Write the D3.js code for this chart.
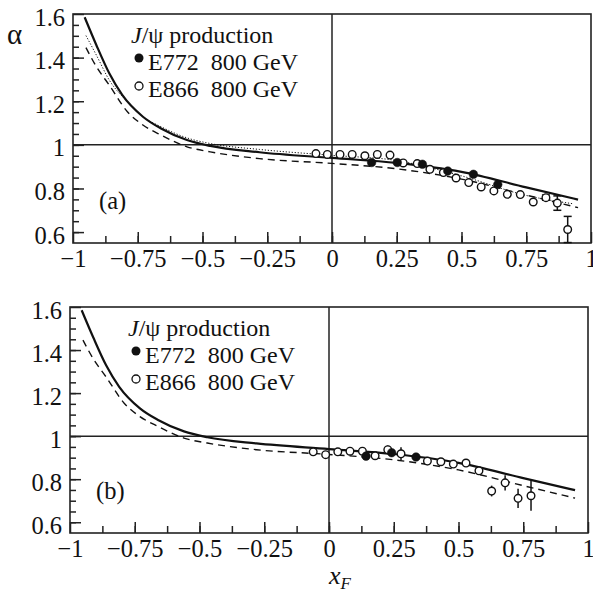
<!DOCTYPE html>
<html>
<head>
<meta charset="utf-8">
<script src="https://cdn.jsdelivr.net/npm/d3@7"></script>
<style>
body { margin: 0; background: #fff; }
text { font-family: "Liberation Serif", "Times New Roman", serif; fill: #111; }
</style>
</head>
<body>
<svg id="chart" width="593" height="596"></svg>
<script>
// theory curves (same in both panels)
var solidX  = [-0.955, -0.91, -0.86, -0.81, -0.73, -0.66, -0.56, -0.47, -0.28, 0, 0.25, 0.5, 0.75, 0.95];
var solidY  = [1.585, 1.458, 1.328, 1.229, 1.129, 1.075, 1.022, 0.995, 0.966, 0.94, 0.917, 0.876, 0.805, 0.749];
var dashX   = [-0.95, -0.91, -0.86, -0.79, -0.73, -0.66, -0.56, -0.47, -0.28, 0, 0.25, 0.5, 0.75, 0.95];
var dashY   = [1.446, 1.359, 1.274, 1.152, 1.091, 1.045, 0.991, 0.968, 0.937, 0.915, 0.89, 0.843, 0.77, 0.712];
var dotX    = [-0.95, -0.91, -0.86, -0.79, -0.73, -0.66, -0.56, -0.47, -0.28, 0, 0.25, 0.38, 0.5, 0.75, 0.93];
var dotY    = [1.501, 1.412, 1.297, 1.198, 1.129, 1.083, 1.032, 1.006, 0.979, 0.952, 0.928, 0.895, 0.858, 0.768, 0.73];

// panel (a) data
var e866aX   = [-0.062, -0.018, 0.031, 0.078, 0.127, 0.175, 0.224, 0.275, 0.329, 0.378, 0.43, 0.479, 0.528, 0.576, 0.625, 0.677, 0.727, 0.777, 0.826, 0.87, 0.91];
var e866aY   = [0.96, 0.956, 0.956, 0.956, 0.95, 0.956, 0.953, 0.917, 0.914, 0.888, 0.873, 0.848, 0.827, 0.807, 0.789, 0.773, 0.772, 0.738, 0.758, 0.733, 0.612];
var e866aErr = [0, 0, 0, 0, 0, 0, 0, 0, 0, 0, 0, 0, 0, 0, 0, 0, 0, 0, 0.012, 0.033, 0.06];
var e772aX   = [0.153, 0.252, 0.349, 0.447, 0.546, 0.64];
var e772aY   = [0.919, 0.919, 0.911, 0.88, 0.865, 0.818];

// panel (b) data
var e866bX   = [-0.061, -0.013, 0.034, 0.081, 0.129, 0.178, 0.227, 0.278, 0.38, 0.432, 0.48, 0.529, 0.579, 0.628, 0.68, 0.73, 0.78];
var e866bY   = [0.927, 0.914, 0.927, 0.93, 0.93, 0.909, 0.937, 0.918, 0.884, 0.881, 0.87, 0.875, 0.839, 0.745, 0.783, 0.711, 0.723];
var e866bErr = [0.019, 0.015, 0, 0, 0, 0, 0.02, 0.03, 0, 0, 0, 0, 0.015, 0.025, 0.035, 0.045, 0.07];
var e772bX   = [0.143, 0.242, 0.336];
var e772bY   = [0.907, 0.923, 0.903];
var e772bErr = [0.015, 0, 0.01];

var yTickVals = [0.6, 0.8, 1, 1.2, 1.4, 1.6];
var yTickText = ["0.6", "0.8", "1", "1.2", "1.4", "1.6"];
var xTickVals = [-1, -0.75, -0.5, -0.25, 0, 0.25, 0.5, 0.75, 1];
var xTickText = ["\u22121", "\u22120.75", "\u22120.5", "\u22120.25", "0", "0.25", "0.5", "0.75", "1"];

var svg = d3.select("#chart");

function zip(xs, ys, es) {
  return xs.map(function(x, i) { return {x: x, y: ys[i], e: es ? es[i] : 0}; });
}

function styleTicks(a) {
  a.select(".domain").remove();
  a.selectAll("line").attr("stroke", "#222").attr("stroke-width", 1.5);
  a.selectAll("text").attr("font-size", 24.5).attr("font-family", null).attr("fill", "#111");
}

function panel(left, top, w, h, tag, withDotted, caps) {
  var x = d3.scaleLinear().domain([-1, 1]).range([left, left + w]);
  var y = d3.scaleLinear().domain([0.55, 1.6]).range([top + h, top]);
  var g = svg.append("g");

  // minor ticks
  g.append("g").attr("transform", "translate(" + left + ",0)")
    .call(d3.axisLeft(y).tickValues(d3.range(0.6, 1.6, 0.05)).tickSize(-6).tickFormat(""))
    .call(styleTicks);
  g.append("g").attr("transform", "translate(0," + (top + h) + ")")
    .call(d3.axisBottom(x).tickValues(d3.range(-0.875, 1, 0.125)).tickSize(-7).tickFormat(""))
    .call(styleTicks);

  // major ticks + labels
  var ya = g.append("g").attr("transform", "translate(" + left + ",0)")
    .call(d3.axisLeft(y).tickValues(yTickVals).tickSize(-11).tickPadding(8)
      .tickFormat(function(d, i) { return yTickText[i]; }))
    .call(styleTicks);
  ya.attr("font-family", null);
  ya.selectAll("text").attr("dy", "0.45em");
  var xa = g.append("g").attr("transform", "translate(0," + (top + h) + ")")
    .call(d3.axisBottom(x).tickValues(xTickVals).tickSize(-11).tickPadding(7)
      .tickFormat(function(d, i) { return xTickText[i]; }))
    .call(styleTicks);
  xa.attr("font-family", null);

  // frame and reference lines
  g.append("rect").attr("x", left).attr("y", top).attr("width", w).attr("height", h)
    .attr("fill", "none").attr("stroke", "#222").attr("stroke-width", 1.6);
  g.append("line").attr("x1", left).attr("x2", left + w).attr("y1", y(1)).attr("y2", y(1))
    .attr("stroke", "#222").attr("stroke-width", 1.5);
  g.append("line").attr("x1", x(0)).attr("x2", x(0)).attr("y1", top).attr("y2", top + h)
    .attr("stroke", "#222").attr("stroke-width", 1.5);

  var line = d3.line().x(function(d) { return x(d.x); }).y(function(d) { return y(d.y); })
    .curve(d3.curveMonotoneX);

  g.append("path").datum(zip(dashX, dashY)).attr("d", line)
    .attr("fill", "none").attr("stroke", "#111").attr("stroke-width", 1.4).attr("stroke-dasharray", "7,5");
  if (withDotted) {
    g.append("path").datum(zip(dotX, dotY)).attr("d", line)
      .attr("fill", "none").attr("stroke", "#111").attr("stroke-width", 1).attr("stroke-dasharray", "1.2,1.8");
  }
  g.append("path").datum(zip(solidX, solidY)).attr("d", line)
    .attr("fill", "none").attr("stroke", "#111").attr("stroke-width", 2.2);

  // legend
  var lg = g.append("g");
  lg.append("text").attr("x", left + 58).attr("y", top + 29).attr("font-size", 24)
    .html('<tspan font-style="italic">J</tspan>/\u03c8 production');
  lg.append("circle").attr("cx", left + 66).attr("cy", top + 44).attr("r", 4.5).attr("fill", "#111");
  lg.append("text").attr("x", left + 75).attr("y", top + 56).attr("font-size", 24)
    .attr("xml:space", "preserve").text("E772  800 GeV");
  lg.append("circle").attr("cx", left + 66).attr("cy", top + 72).attr("r", 4).attr("fill", "#fff")
    .attr("stroke", "#111").attr("stroke-width", 1.3);
  lg.append("text").attr("x", left + 75).attr("y", top + 83).attr("font-size", 24)
    .attr("xml:space", "preserve").text("E866  800 GeV");

  g.append("text").attr("x", left + 26).attr("y", top + h - 34).attr("font-size", 24.5).text(tag);

  return {g: g, x: x, y: y, caps: caps};
}

function points(p, data, filled) {
  var eb = data.filter(function(d) { return d.e > 0; });
  p.g.selectAll(null).data(eb).enter().append("line")
    .attr("x1", function(d) { return p.x(d.x); }).attr("x2", function(d) { return p.x(d.x); })
    .attr("y1", function(d) { return p.y(d.y - d.e); }).attr("y2", function(d) { return p.y(d.y + d.e); })
    .attr("stroke", "#111").attr("stroke-width", 1.5);
  if (p.caps) {
    [-1, 1].forEach(function(s) {
      p.g.selectAll(null).data(eb).enter().append("line")
        .attr("x1", function(d) { return p.x(d.x) - 4; }).attr("x2", function(d) { return p.x(d.x) + 4; })
        .attr("y1", function(d) { return p.y(d.y + s * d.e); }).attr("y2", function(d) { return p.y(d.y + s * d.e); })
        .attr("stroke", "#111").attr("stroke-width", 1.5);
    });
  }
  p.g.selectAll(null).data(data).enter().append("circle")
    .attr("cx", function(d) { return p.x(d.x); }).attr("cy", function(d) { return p.y(d.y); })
    .attr("r", filled ? 4.3 : 3.8)
    .attr("fill", filled ? "#111" : "#fff").attr("stroke", "#111").attr("stroke-width", filled ? 0.5 : 1.4);
}

var pa = panel(73, 14, 518, 229, "(a)", true, true);
points(pa, zip(e866aX, e866aY, e866aErr), false);
points(pa, zip(e772aX, e772aY), true);

var pb = panel(70, 307, 518, 226, "(b)", false, false);
points(pb, zip(e866bX, e866bY, e866bErr), false);
points(pb, zip(e772bX, e772bY, e772bErr), true);

// axis titles
svg.append("text").attr("x", 7).attr("y", 44).attr("font-size", 29).text("\u03b1");
var xt = svg.append("text").attr("x", 329).attr("y", 584).attr("font-size", 26);
xt.append("tspan").attr("font-style", "italic").text("x");
xt.append("tspan").attr("font-style", "italic").attr("font-size", 17).attr("dy", 5).text("F");
</script>
</body>
</html>
